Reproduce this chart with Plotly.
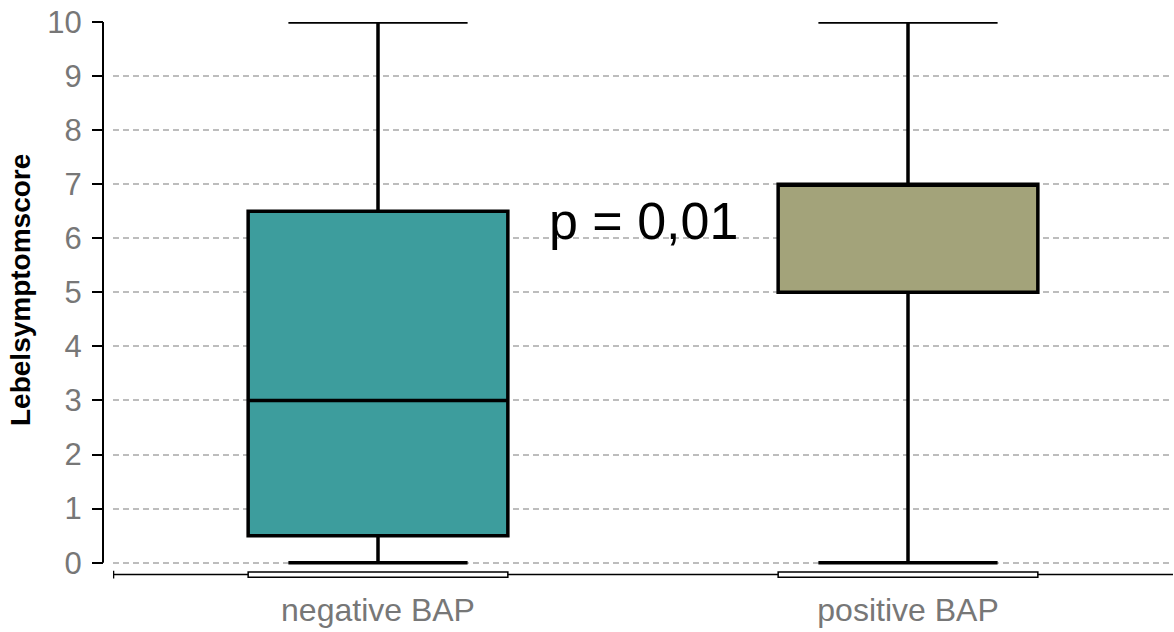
import plotly.graph_objects as go

# Summary statistics per group
categories = ["negative BAP", "positive BAP"]
lower_whisker = [0, 0]
q1_values = [0.5, 5]
median_values = [3, 7]
q3_values = [6.5, 7]
upper_whisker = [10, 10]
box_colors = ["#3d9d9d", "#a3a37a"]
y_ticks = list(range(0, 11))
p_label = "p = 0,01"
y_title = "Lebelsymptomscore"

BOX_WIDTH = 0.49
AXIS_Y = -0.22      # where the category axis line sits
Y_MIN = -0.32

fig = go.Figure()
for i, cat in enumerate(categories):
    fig.add_trace(go.Box(
        x=[i],
        q1=[q1_values[i]],
        median=[median_values[i]],
        q3=[q3_values[i]],
        lowerfence=[lower_whisker[i]],
        upperfence=[upper_whisker[i]],
        width=BOX_WIDTH,
        whiskerwidth=0.69,
        fillcolor=box_colors[i],
        line=dict(color="black", width=3.5),
        boxpoints=False,
        hoverinfo="skip",
        showlegend=False,
    ))

shapes = []
# category axis line with a small end stop
shapes.append(dict(type="line", xref="x", yref="y", x0=-0.5, x1=1.5,
                   y0=AXIS_Y, y1=AXIS_Y, line=dict(color="black", width=1.5)))
shapes.append(dict(type="line", xref="x", yref="y", x0=-0.499, x1=-0.499,
                   y0=AXIS_Y - 0.07, y1=AXIS_Y + 0.07, line=dict(color="black", width=1.5)))
# thin outlined strips sitting on the category axis under each box
for i, _ in enumerate(categories):
    shapes.append(dict(
        type="rect", xref="x", yref="y",
        x0=i - BOX_WIDTH / 2, x1=i + BOX_WIDTH / 2,
        y0=AXIS_Y - 0.05, y1=AXIS_Y + 0.05,
        fillcolor="white", line=dict(color="black", width=1.5), layer="above",
    ))
# vertical value axis line, offset to the left of the plotting area
shapes.append(dict(type="line", xref="paper", yref="y", x0=0, x1=0,
                   y0=0, y1=10, line=dict(color="black", width=2)))

PLOT_W = 1174 - 103 - 1
T, B = 22, 52
PLOT_H = 632 - T - B

fig.update_layout(
    width=1174, height=632,
    margin=dict(l=103, r=1, t=T, b=B, autoexpand=False),
    paper_bgcolor="white", plot_bgcolor="white",
    shapes=shapes,
    annotations=[dict(
        x=0.5, y=6.32, xref="x", yref="y", text=p_label, showarrow=False,
        font=dict(family="Liberation Sans, Arial", size=52, color="black"),
        xanchor="center", yanchor="middle",
    ), dict(
        x=-83 / PLOT_W, y=(632 - B - 290) / PLOT_H, xref="paper", yref="paper",
        text="<b>" + y_title + "</b>",
        showarrow=False, textangle=-90,
        font=dict(family="Liberation Sans, Arial", size=28, color="black"),
        xanchor="center", yanchor="middle",
    )],
)

fig.update_xaxes(
    domain=[10 / PLOT_W, 1],
    range=[-0.5, 1.5],
    tickmode="array", tickvals=list(range(len(categories))), ticktext=categories,
    showgrid=False, zeroline=False, showline=False,
    ticks="", ticklabelstandoff=8,
    tickfont=dict(family="Liberation Sans, Arial", size=32, color="#777777"),
    automargin=False,
)
fig.update_yaxes(
    range=[Y_MIN, 10],
    anchor="free", position=0,
    tickmode="array", tickvals=y_ticks,
    ticks="outside", ticklen=11, tickwidth=2, tickcolor="black",
    ticklabelstandoff=4,
    tickfont=dict(family="Liberation Sans, Arial", size=31, color="#777777"),
    showgrid=True, gridcolor="#bdbdbd", gridwidth=1.5, griddash="6px,4px",
    zeroline=False, showline=False,
    automargin=False,
)

fig.write_html("out.html")
